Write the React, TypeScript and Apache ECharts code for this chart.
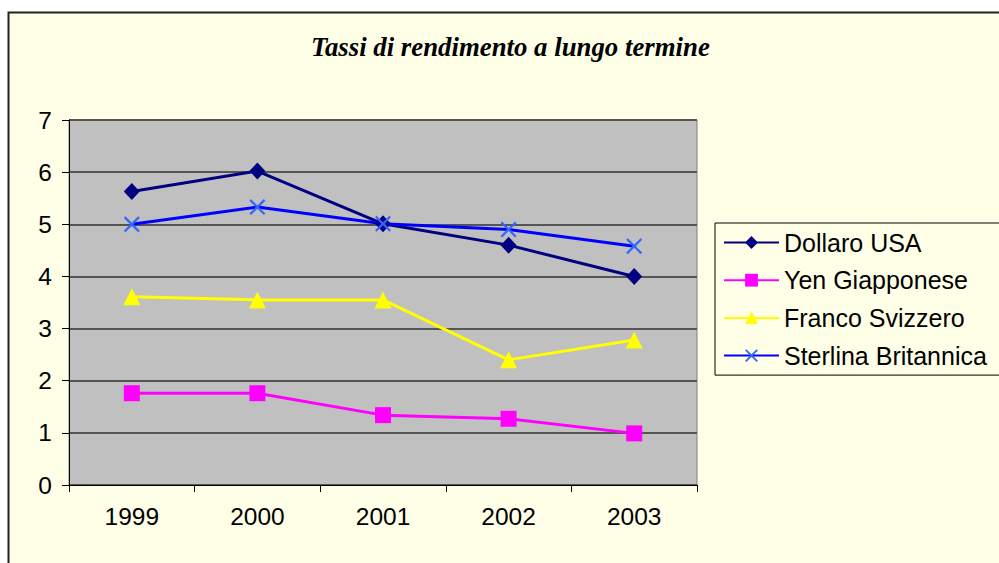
import React, { useEffect, useRef } from "react";
import * as echarts from "echarts";

const years = ["1999", "2000", "2001", "2002", "2003"];
const dollaroUSA = [5.63, 6.02, 5.01, 4.6, 4.0];
const yenGiapponese = [1.76, 1.76, 1.34, 1.27, 0.99];
const francoSvizzero = [3.61, 3.55, 3.55, 2.4, 2.78];
const sterlinaBritannica = [5.0, 5.33, 5.01, 4.9, 4.58];
const seriesNames = ["Dollaro USA", "Yen Giapponese", "Franco Svizzero", "Sterlina Britannica"];
const titleText = "Tassi di rendimento a lungo termine";

const crossPath =
  "path://M0,1.6 L1.6,0 L8,6.4 L14.4,0 L16,1.6 L9.6,8 L16,14.4 L14.4,16 L8,9.6 L1.6,16 L0,14.4 L6.4,8 Z";

export default function App() {
  const ref = useRef<HTMLDivElement>(null);
  useEffect(() => {
    if (!ref.current) return;
    const chart = echarts.init(ref.current, null, { renderer: "svg" });
    const font = "Arial, 'Liberation Sans', sans-serif";
    chart.setOption({
      animation: false,
      backgroundColor: "#ffffff",
      graphic: [
        {
          type: "rect",
          z: -10,
          silent: true,
          shape: { x: 8.5, y: 12.5, width: 1000, height: 560 },
          style: { fill: "#FFFFE8", stroke: "#222", lineWidth: 2 },
        },
      ],
      title: {
        text: titleText,
        left: 306,
        top: 28,
        textStyle: {
          fontFamily: "'Liberation Serif', 'Times New Roman', serif",
          fontStyle: "italic",
          fontWeight: "bold",
          fontSize: 26.8,
          color: "#000",
        },
      },
      grid: {
        left: 69,
        top: 120,
        width: 628,
        height: 365,
        show: true,
        backgroundColor: "#C0C0C0",
        borderColor: "#808080",
        borderWidth: 1,
      },
      legend: {
        orient: "vertical",
        left: 715,
        top: 223,
        padding: [7, 30, 7, 8],
        itemGap: 12.7,
        itemWidth: 55,
        itemHeight: 16,
        backgroundColor: "#FFFFE8",
        borderColor: "#000",
        borderWidth: 1,
        borderRadius: 0,
        textStyle: { fontFamily: font, fontSize: 25, color: "#000", lineHeight: 25 },
        data: seriesNames,
      },
      xAxis: {
        type: "category",
        data: years,
        boundaryGap: true,
        axisLine: { lineStyle: { color: "#000", width: 1 } },
        axisTick: { show: true, length: 7, inside: false, lineStyle: { color: "#000" } },
        axisLabel: { fontFamily: font, fontSize: 24.5, color: "#000", margin: 19 },
      },
      yAxis: {
        type: "value",
        min: 0,
        max: 7,
        interval: 1,
        axisLine: { show: true, lineStyle: { color: "#000", width: 1 } },
        axisTick: { show: true, length: 7, lineStyle: { color: "#000" } },
        axisLabel: { fontFamily: font, fontSize: 24.5, color: "#000", margin: 17 },
        splitLine: { show: true, lineStyle: { color: "#555", width: 2 } },
      },
      series: [
        {
          name: seriesNames[0],
          type: "line",
          data: dollaroUSA,
          symbol: "diamond",
          symbolSize: [16, 17],
          lineStyle: { color: "#000080", width: 3 },
          itemStyle: { color: "#000080" },
        },
        {
          name: seriesNames[1],
          type: "line",
          data: yenGiapponese,
          symbol: "rect",
          symbolSize: 16,
          lineStyle: { color: "#FF00FF", width: 3 },
          itemStyle: { color: "#FF00FF" },
        },
        {
          name: seriesNames[2],
          type: "line",
          data: francoSvizzero,
          symbol: "triangle",
          symbolSize: 17,
          lineStyle: { color: "#FFFF00", width: 3 },
          itemStyle: { color: "#FFFF00" },
        },
        {
          name: seriesNames[3],
          type: "line",
          data: sterlinaBritannica,
          symbol: crossPath,
          symbolSize: 16,
          lineStyle: { color: "#0000FF", width: 3 },
          itemStyle: { color: "#3366FF" },
        },
      ],
    });
    return () => chart.dispose();
  }, []);
  return (
    <div
      ref={ref}
      style={{ position: "fixed", left: 0, top: 0, width: 999, height: 563 }}
    />
  );
}
